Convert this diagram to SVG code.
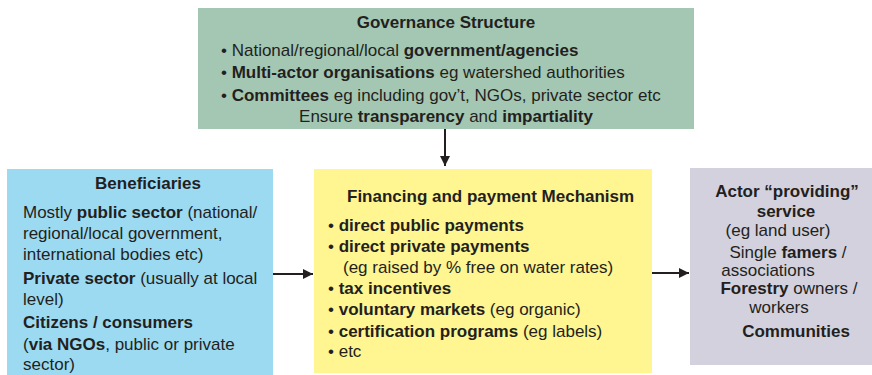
<svg xmlns="http://www.w3.org/2000/svg" width="872" height="375" viewBox="0 0 872 375">
<defs>
<marker id="ah" viewBox="0 0 10 10" refX="10" refY="5" markerWidth="10" markerHeight="10" markerUnits="userSpaceOnUse" orient="auto">
<path d="M0,0 L10,5 L0,10 Z" fill="#231f20"/>
</marker>
</defs>
<style>
text{font-family:"Liberation Sans",Arial,sans-serif;font-size:17px;fill:#231f20}
.b{font-weight:bold}
.c{text-anchor:middle}
.conn{stroke:#231f20;stroke-width:2;fill:none;marker-end:url(#ah)}
</style>
<g id="governance">
<rect x="198" y="8" width="496" height="121" fill="#a3c7b3"/>
<text class="b c" x="446" y="28">Governance Structure</text>
<text x="221" y="56">• National/regional/local <tspan class="b">government/agencies</tspan></text>
<text x="221" y="78">• <tspan class="b">Multi-actor organisations</tspan> eg watershed authorities</text>
<text x="221" y="101">• <tspan class="b">Committees</tspan> eg including gov’t, NGOs, private sector etc</text>
<text class="c" x="446" y="122">Ensure <tspan class="b">transparency</tspan> and <tspan class="b">impartiality</tspan></text>
</g>
<g id="beneficiaries">
<rect x="7" y="169" width="266" height="206" fill="#9cdaf2"/>
<text class="b c" x="148" y="189">Beneficiaries</text>
<text x="23" y="218">Mostly <tspan class="b">public sector</tspan> (national/</text>
<text x="23" y="239">regional/local government,</text>
<text x="23" y="260">international bodies etc)</text>
<text x="23" y="284"><tspan class="b">Private sector</tspan> (usually at local</text>
<text x="23" y="305">level)</text>
<text x="23" y="328" class="b">Citizens / consumers</text>
<text x="23" y="350">(<tspan class="b">via NGOs</tspan>, public or private</text>
<text x="23" y="370">sector)</text>
</g>
<g id="financing">
<rect x="314" y="169" width="338" height="204" fill="#fff591"/>
<text class="b" x="347" y="202">Financing and payment Mechanism</text>
<text x="328" y="231">• <tspan class="b">direct public payments</tspan></text>
<text x="328" y="252">• <tspan class="b">direct private payments</tspan></text>
<text x="343" y="273">(eg raised by % free on water rates)</text>
<text x="328" y="294">• <tspan class="b">tax incentives</tspan></text>
<text x="328" y="315">• <tspan class="b">voluntary markets</tspan> (eg organic)</text>
<text x="328" y="337">• <tspan class="b">certification programs</tspan> (eg labels)</text>
<text x="328" y="357">• etc</text>
</g>
<g id="actor">
<rect x="690" y="168" width="182" height="197" fill="#d2d1dd"/>
<text class="b c" x="787" y="197">Actor “providing”</text>
<text class="b c" x="786" y="217">service</text>
<text class="c" x="778" y="236">(eg land user)</text>
<text class="c" x="788" y="258">Single <tspan class="b">famers</tspan> /</text>
<text class="c" x="768" y="276">associations</text>
<text class="c" x="789" y="294"><tspan class="b">Forestry</tspan> owners /</text>
<text class="c" x="779" y="313">workers</text>
<text class="b c" x="796" y="337">Communities</text>
</g>
<g id="connectors">
<line class="conn" x1="445" y1="129" x2="445" y2="166"/>
<line class="conn" x1="273" y1="274" x2="313" y2="274"/>
<line class="conn" x1="652" y1="273" x2="689" y2="273"/>
</g>
</svg>
